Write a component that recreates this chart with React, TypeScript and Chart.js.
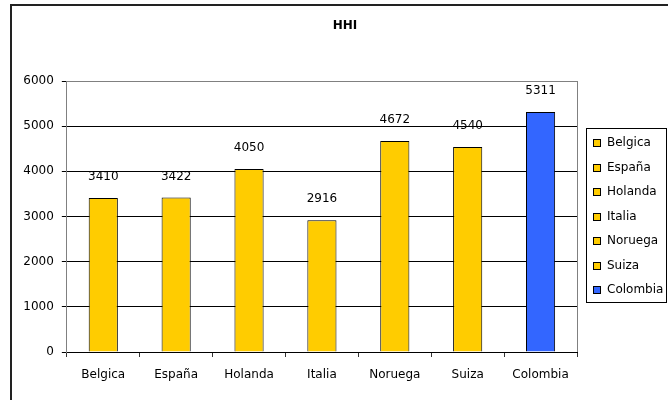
import React, { useEffect, useRef } from "react";
import { Chart, registerables } from "chart.js";

Chart.register(...registerables);

const categories = ["Belgica", "España", "Holanda", "Italia", "Noruega", "Suiza", "Colombia"];
const hhiValues = [3410, 3422, 4050, 2916, 4672, 4540, 5311];
const barColors = ["#FFCC00", "#FFCC00", "#FFCC00", "#FFCC00", "#FFCC00", "#FFCC00", "#3366FF"];
const yTicks = [0, 1000, 2000, 3000, 4000, 5000, 6000];
const chartTitle = "HHI";

const FONT = "'DejaVu Sans', Verdana, sans-serif";

const framePlugin = {
  id: "frame",
  beforeDraw(chart: any) {
    const ctx = chart.ctx;
    ctx.save();
    ctx.fillStyle = "#ffffff";
    ctx.fillRect(0, 0, chart.width, chart.height);
    ctx.strokeStyle = "#222222";
    ctx.lineWidth = 2;
    ctx.beginPath();
    ctx.moveTo(11, 400);
    ctx.lineTo(11, 5);
    ctx.lineTo(668, 5);
    ctx.stroke();
    ctx.font = `bold 12px ${FONT}`;
    ctx.fillStyle = "#000";
    ctx.textAlign = "center";
    ctx.textBaseline = "middle";
    ctx.fillText(chartTitle, 345, 26);
    ctx.restore();
  },
  afterDatasetsDraw(chart: any) {
    const ctx = chart.ctx;
    const a = chart.chartArea;
    ctx.save();
    ctx.strokeStyle = "#808080";
    ctx.lineWidth = 1;
    ctx.beginPath();
    const rx = Math.round(a.right) + 0.5;
    ctx.moveTo(rx, a.top);
    ctx.lineTo(rx, a.bottom);
    ctx.stroke();
    ctx.restore();
  },
};

const valueLabelPlugin = {
  id: "valueLabels",
  afterDatasetsDraw(chart: any) {
    const ctx = chart.ctx;
    const meta = chart.getDatasetMeta(0);
    const data = chart.data.datasets[0].data;
    ctx.save();
    ctx.font = `12px ${FONT}`;
    ctx.fillStyle = "#000";
    ctx.textAlign = "center";
    ctx.textBaseline = "middle";
    meta.data.forEach((bar: any, i: number) => {
      ctx.fillText(String(data[i]), bar.x, bar.y - 21);
    });
    ctx.restore();
  },
};

const legendPlugin = {
  id: "boxLegend",
  afterDraw(chart: any) {
    const ctx = chart.ctx;
    const labels = chart.data.labels as string[];
    const colors = chart.data.datasets[0].backgroundColor as string[];
    const left = 586.5, top = 128.5, w = 80, h = 174;
    ctx.save();
    ctx.strokeStyle = "#000";
    ctx.lineWidth = 1;
    ctx.strokeRect(left, top, w, h);
    ctx.font = `12px ${FONT}`;
    ctx.textAlign = "left";
    ctx.textBaseline = "middle";
    labels.forEach((lab, i) => {
      const cy = 143 + i * 24.5;
      const sy = Math.round(cy - 4) + 0.5;
      ctx.fillStyle = colors[i];
      ctx.fillRect(593.5, sy, 7, 7);
      ctx.strokeStyle = "#000";
      ctx.strokeRect(593.5, sy, 7, 7);
      ctx.fillStyle = "#000";
      ctx.fillText(lab, 607, cy);
    });
    ctx.restore();
  },
};

export default function App() {
  const ref = useRef<HTMLCanvasElement | null>(null);

  useEffect(() => {
    if (!ref.current) return;
    const chart = new Chart(ref.current, {
      type: "bar",
      data: {
        labels: categories,
        datasets: [
          {
            label: chartTitle,
            data: hhiValues,
            backgroundColor: barColors,
            borderColor: "#000000",
            borderWidth: 1,
            barPercentage: 0.4,
            categoryPercentage: 1.0,
          },
        ],
      },
      options: {
        responsive: false,
        animation: false,
        layout: { padding: { left: 15.3, right: 91, top: 81, bottom: 6.6 } },
        plugins: {
          legend: { display: false },
          tooltip: { enabled: false },
          title: { display: false },
        },
        scales: {
          x: {
            grid: {
              display: true,
              drawOnChartArea: false,
              drawTicks: true,
              tickLength: 5,
              tickColor: "#333",
              offset: true,
            },
            border: { display: true, color: "#000", width: 1 },
            ticks: {
              color: "#000",
              font: { family: FONT, size: 12 },
              padding: 11,
              maxRotation: 0,
              autoSkip: false,
            },
          },
          y: {
            min: 0,
            max: 6000,
            afterBuildTicks: (axis: any) => {
              axis.ticks = yTicks.map((v) => ({ value: v }));
            },
            grid: {
              color: (c: any) => (c.tick && c.tick.value === 6000 ? "#808080" : "#000000"),
              tickColor: "#000",
              tickLength: 5,
              lineWidth: 1,
            },
            border: { display: true, color: "#808080", width: 1 },
            ticks: {
              color: "#000",
              font: { family: FONT, size: 12 },
              padding: 8,
              callback: (v: any) => String(v),
            },
          },
        },
      },
      plugins: [framePlugin, valueLabelPlugin, legendPlugin],
    });
    return () => chart.destroy();
  }, []);

  return (
    <div style={{ position: "absolute", left: 0, top: 0, width: 668, height: 400 }}>
      <canvas ref={ref} width={668} height={400} style={{ display: "block" }} />
    </div>
  );
}
